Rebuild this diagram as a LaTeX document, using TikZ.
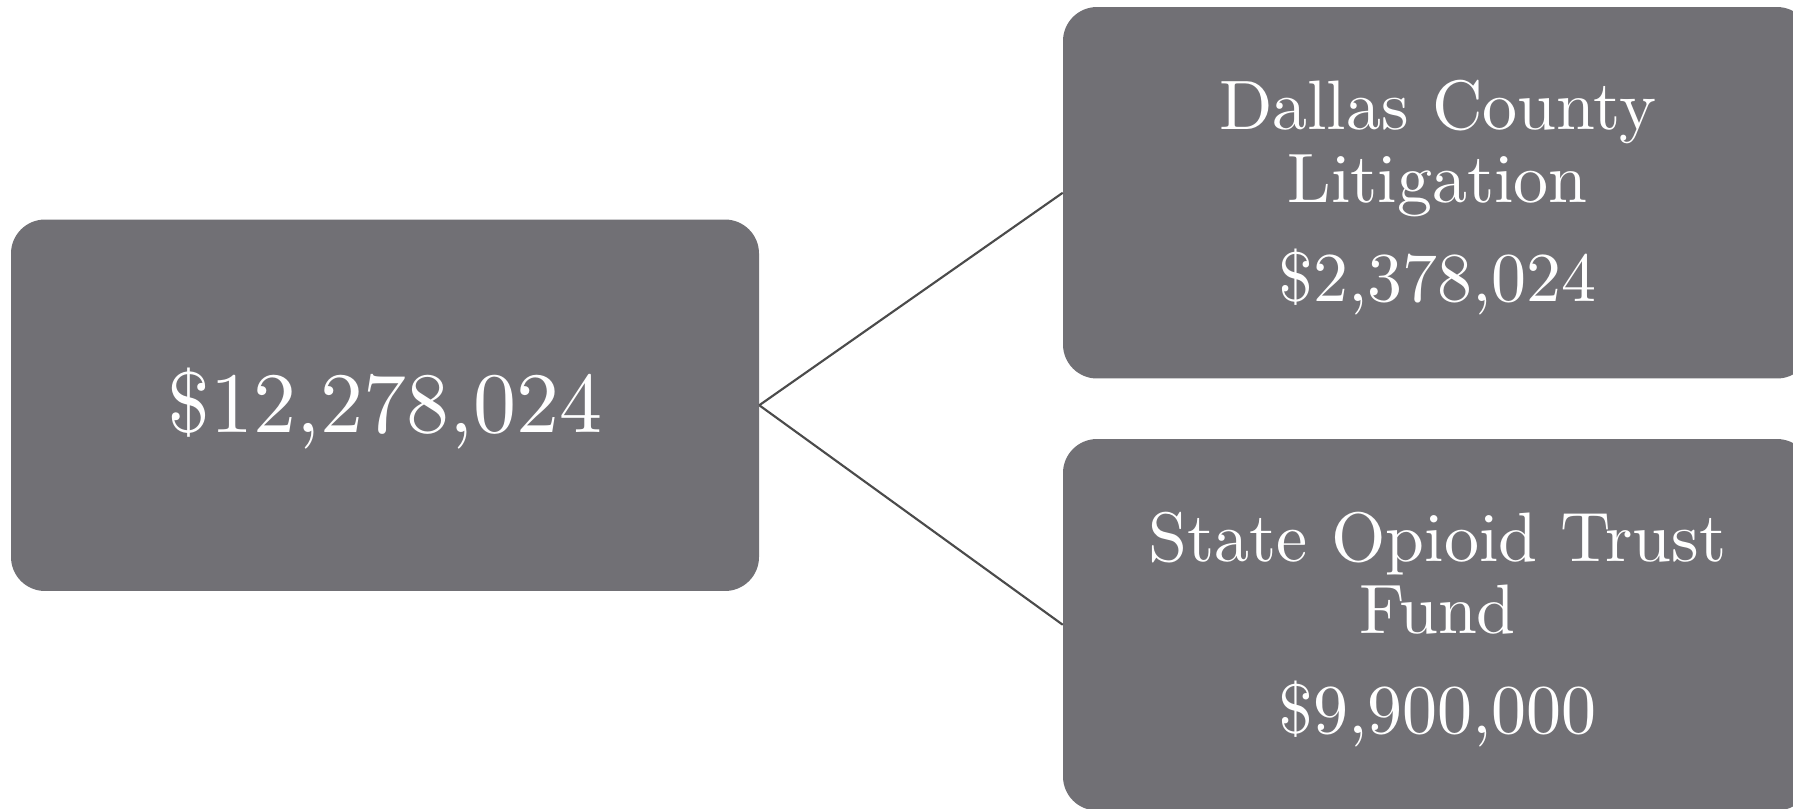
\documentclass[tikz,border=0pt]{standalone}
\usepackage{fontspec}
\newfontfamily\tenfont{lmroman10-regular}[Extension=.otf]
\definecolor{boxgray}{HTML}{717075}
\definecolor{linegray}{HTML}{4B4B4B}
\begin{document}
\begin{tikzpicture}[x=0.75pt,y=-0.75pt,
  box/.style={fill=boxgray,draw=none,rounded corners=25.5pt,minimum width=561pt,minimum height=278.6pt,inner sep=0pt},
  bigtxt/.style={text=white,anchor=base,inner sep=0pt,font=\tenfont\fontsize{64.5pt}{66pt}\selectfont},
  txt/.style={text=white,anchor=base,inner sep=0pt,font=\tenfont\fontsize{52.5pt}{54pt}\selectfont},
  conn/.style={draw=linegray,line width=1.6pt}]
\useasboundingbox (0,0) rectangle (1793,808);
\fill[white] (0,0) rectangle (1793,808);
\begin{scope}
\clip (0,0) rectangle (1793,808);
\node[box] (total) at (385,405.25) {};
\node[box] (dallas) at (1437,192.75) {};
\node[box] (state) at (1437,624.75) {};
\end{scope}
\node[bigtxt] (ttot) at (385,432) {\$12,278,024};
\node[txt] (d1) at (1437.5,129.5) {Dallas County};
\node[txt] (d2) at (1437.5,202) {Litigation};
\node[txt] (d3) at (1437.5,301) {\$2,378,024};
\node[txt] (s1) at (1437.5,561) {State Opioid Trust};
\node[txt] (s2) at (1437.5,633) {Fund};
\node[txt] (s3) at (1437.5,733) {\$9,900,000};
\draw[conn] (total.east) -- (dallas.west);
\draw[conn] (total.east) -- (state.west);
\end{tikzpicture}
\end{document}
